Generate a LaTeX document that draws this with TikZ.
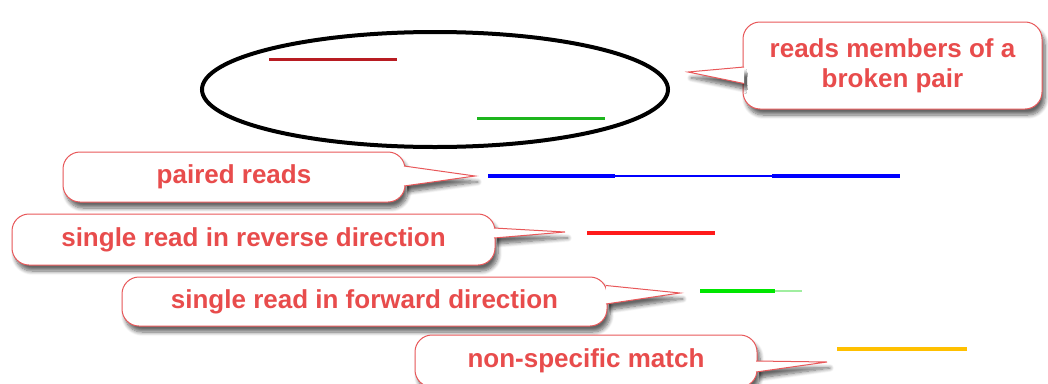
\documentclass[tikz,border=0pt]{standalone}
\usepackage{fontspec}
\setmainfont{Liberation Sans}
\usepackage{tikz}
\usetikzlibrary{calc,shapes.geometric,shadows.blur}
\definecolor{notered}{HTML}{E8585A}
\definecolor{notetext}{HTML}{E84C4C}
\definecolor{readdark}{HTML}{B81C22}
\definecolor{readgreen}{HTML}{1DB51D}
\definecolor{readblue}{HTML}{0000FF}
\definecolor{readred}{HTML}{FF1A1A}
\definecolor{readlime}{HTML}{00E600}
\definecolor{readpale}{HTML}{A0EEA0}
\definecolor{readgold}{HTML}{FFC000}
\tikzset{
  nshade/.style={blur shadow={shadow xshift=3pt, shadow yshift=-6pt, shadow blur steps=8, shadow blur radius=4pt, shadow opacity=60}},
  notebox/.style={draw=notered, fill=white, line width=1pt, rounded corners=17pt, align=center, text=notetext, font=\bfseries\fontsize{26}{30}\selectfont, inner sep=0pt, nshade},
  notetail/.style={draw=notered, fill=white, line width=1pt, line join=miter, nshade},
  readline/.style={line width=3.5pt},
  pairring/.style={draw=black, ellipse, line width=4pt, minimum width=466pt, minimum height=115pt, inner sep=0pt},
}
\begin{document}
\begin{tikzpicture}[x=1pt, y=-1pt]
  \useasboundingbox (0,0) rectangle (1048,383);
  \node[pairring] (pairring) at (435,89.5) {};
  \coordinate (darkA) at (269,59);
  \coordinate (darkB) at (397,59);
  \coordinate (greenA) at (477,118);
  \coordinate (greenB) at (605,118);
  \draw[readline, readdark, line width=3pt] (darkA) -- (darkB);
  \draw[readline, readgreen, line width=3pt] (greenA) -- (greenB);
  \coordinate (pairA) at (488,176);
  \coordinate (pairB) at (615,176);
  \coordinate (pairC) at (772,176);
  \coordinate (pairD) at (900,176);
  \draw[readline, readblue, line width=4pt] (pairA) -- (pairB);
  \draw[readblue, line width=1.3pt] (pairB) -- (pairC);
  \draw[readline, readblue, line width=4pt] (pairC) -- (pairD);
  \coordinate (revA) at (587,233);
  \coordinate (revB) at (715,233);
  \draw[readline, readred] (revA) -- (revB);
  \coordinate (fwdA) at (700,291);
  \coordinate (fwdB) at (775,291);
  \coordinate (fwdC) at (802,291);
  \draw[readline, readlime] (fwdA) -- (fwdB);
  \draw[readpale, line width=2.5pt] (fwdB) -- (fwdC);
  \coordinate (nonA) at (837,349);
  \coordinate (nonB) at (967,349);
  \draw[readline, readgold] (nonA) -- (nonB);
  \node[notebox, minimum width=299pt, minimum height=87pt] (brokennote) at (892.5,65.5) {reads members of a\\broken pair};
  \node[notebox, minimum width=342pt, minimum height=50pt] (pairednote) at (234,177) {paired reads};
  \node[notebox, minimum width=483pt, minimum height=51pt] (reversenote) at (253.5,239.5) {single read in reverse direction};
  \node[notebox, minimum width=485pt, minimum height=49pt] (forwardnote) at (364.5,301.5) {single read in forward direction};
  \node[notebox, minimum width=342pt, minimum height=52pt] (nonspecnote) at (586,361) {non-specific match};
  \coordinate (brokentip) at (688,72);
  \coordinate (pairedtip) at (475,176);
  \coordinate (reversetip) at (565,232);
  \coordinate (forwardtip) at (680,293);
  \coordinate (nonspectip) at (827,362);
  \filldraw[notetail] ($(brokennote.west)+(1.5,1.5)$) -- (brokentip) -- ($(brokennote.west)+(1.5,18)$);
  \filldraw[notetail] ($(pairednote.east)+(-1.5,-11)$) -- (pairedtip) -- ($(pairednote.east)+(-1.5,9)$);
  \filldraw[notetail] ($(reversenote.east)+(-1.5,-11.5)$) -- (reversetip) -- ($(reversenote.east)+(-1.5,-1.5)$);
  \filldraw[notetail] ($(forwardnote.east)+(-1.5,-16)$) -- (forwardtip) -- ($(forwardnote.east)+(-1.5,2.5)$);
  \filldraw[notetail] ($(nonspecnote.east)+(-1.5,0)$) -- (nonspectip) -- ($(nonspecnote.east)+(-1.5,11)$);
\end{tikzpicture}
\end{document}
